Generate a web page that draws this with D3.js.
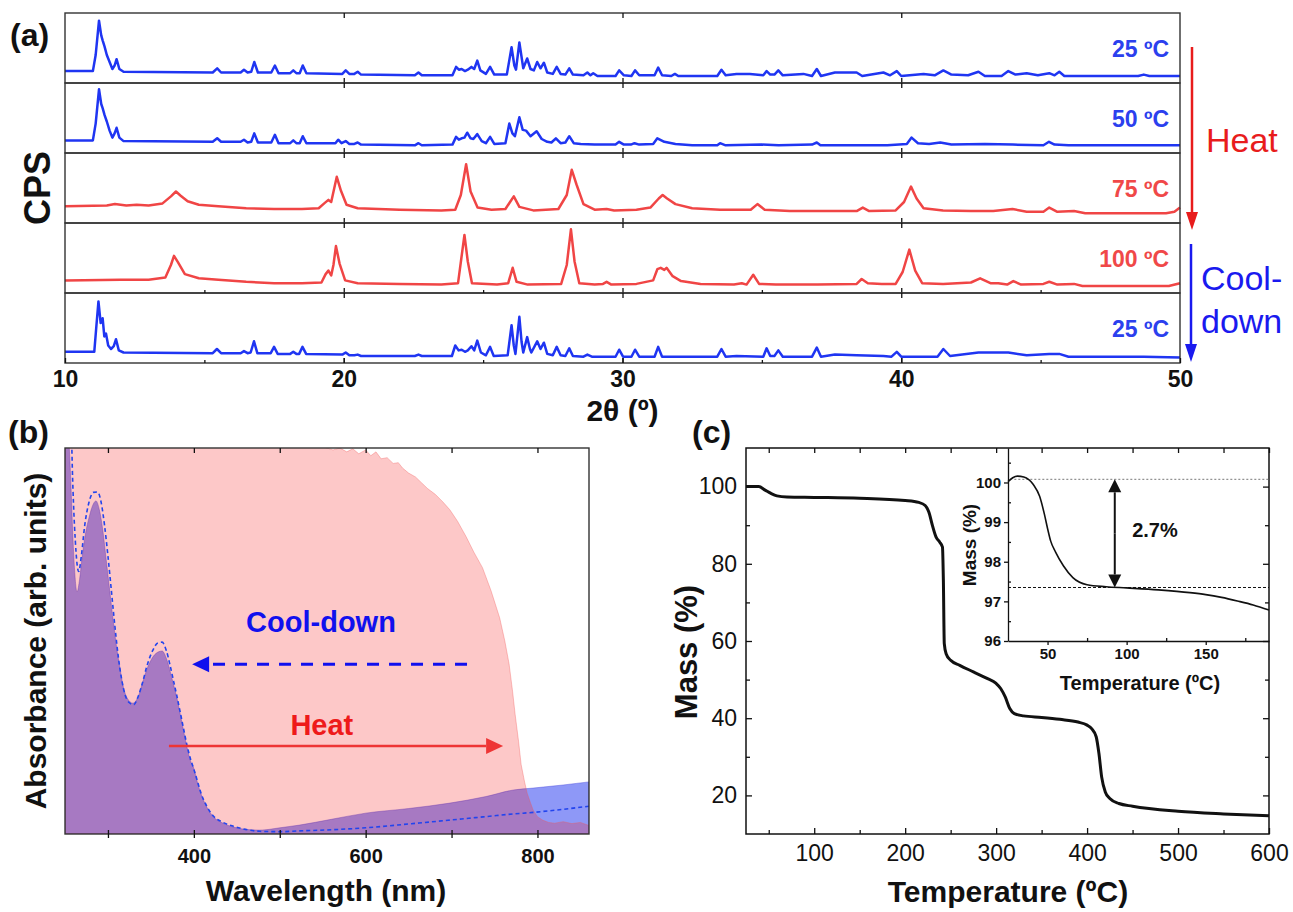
<!DOCTYPE html>
<html>
<head>
<meta charset="utf-8">
<script src="https://cdn.jsdelivr.net/npm/d3@7"></script>
<style>
  body { margin: 0; background: #fff; }
  text { font-family: Arial, "Liberation Sans", sans-serif; }
</style>
</head>
<body>
<svg id="fig" width="1293" height="912"></svg>
<script>
// ---------------- data ----------------
// (a) XRD patterns, [2theta, intensity] (intensity in % of strip height)
const xrd25 = [[10,17],[11.0,17],[11.1,40],[11.22,89],[11.3,68],[11.35,61],[11.42,52],[11.5,40],[11.6,30],[11.7,20],[11.78,25],[11.85,34],[11.95,20],[12.1,16],
  [15.3,15],[15.46,21],[15.6,15],[16.3,15],[16.42,19],[16.55,15],[16.68,16],[16.79,30],[16.92,15],[17.4,15],[17.53,25],[17.66,14],
  [18.08,14],[18.19,18],[18.3,14],[18.42,14],[18.53,25],[18.66,14],[19.95,13],[20.07,18],[20.2,13],[20.38,13],[20.5,16],[20.62,12],
  [22.55,11],[22.68,15],[22.8,11],[23.9,11],[24.03,23],[24.13,19],[24.23,20],[24.35,17],[24.45,19],[24.58,23],[24.68,20],[24.79,32],[24.9,18],[25.1,13],[25.25,23],[25.4,12],
  [25.85,12],[26.02,51],[26.12,25],[26.18,19],[26.3,58],[26.44,21],[26.58,35],[26.7,20],[26.82,18],[26.94,30],[27.06,21],[27.18,29],[27.3,15],[27.5,13],[27.64,23],[27.78,13],[27.95,12],[28.09,21],[28.22,12],
  [28.6,11],[28.74,15],[28.85,11],[28.95,14],[29.1,10],[29.75,10],[29.88,18],[30.05,11],[30.32,10],[30.45,18],[30.6,11],
  [31.15,11],[31.28,22],[31.42,11],[31.75,10],[31.88,13],[32.0,10],[33.4,10],[33.55,19],[33.7,11],[34.09,13],[34.57,13],[35.05,11],[35.17,17],[35.3,12],[35.45,12],[35.59,18],[35.75,11],
  [36.49,13],[36.8,10],[36.97,20],[37.12,10],[37.62,15],[38.4,15],[38.6,10],[39.36,15],[39.6,11],[39.84,17],[40.0,10],[40.8,13],[41.2,11],[41.51,18],[41.8,12],
  [42.4,11],[42.77,16],[43.0,10],[43.6,10],[43.84,17],[44.1,12],[44.5,14],[44.9,11],[45.31,14],[45.5,11],[45.67,16],[45.85,10],[48.5,10],[48.7,12],[48.9,10],[50,10]];

const xrd50 = [[10,18],[11.0,18],[11.1,42],[11.22,91],[11.3,70],[11.35,64],[11.42,54],[11.5,45],[11.6,32],[11.7,22],[11.78,28],[11.85,36],[11.95,22],[12.1,17],
  [15.3,16],[15.46,21],[15.6,16],[16.3,16],[16.42,19],[16.55,15],[16.68,16],[16.79,28],[16.92,15],[17.4,15],[17.53,26],[17.66,14],[18.08,14],[18.19,18],[18.3,14],[18.42,14],[18.53,24],[18.66,14],
  [19.7,14],[19.8,19],[19.92,14],[20.07,17],[20.2,13],[20.38,13],[20.5,15],[20.62,12],[22.55,11],[22.68,14],[22.8,11],
  [23.9,12],[24.03,23],[24.13,19],[24.23,21],[24.33,22],[24.43,29],[24.55,21],[24.65,20],[24.79,27],[24.95,17],[25.1,14],[25.25,23],[25.4,13],
  [25.8,14],[25.94,42],[26.05,28],[26.14,24],[26.3,51],[26.42,33],[26.54,32],[26.7,24],[26.92,31],[27.1,20],[27.3,16],[27.45,15],[27.61,21],[27.78,14],[27.95,15],[28.09,24],[28.25,14],
  [28.5,13],[29.0,12],[29.75,12],[29.88,16],[30.05,12],[30.3,12],[30.43,14],[30.6,12],[31.1,13],[31.25,21],[31.5,16],[31.9,13],[32.5,11],[33.4,11],[33.5,14],[33.7,11],
  [35.0,12],[35.6,11],[36.8,12],[36.97,15],[37.1,11],[39.5,11],[40.2,13],[40.37,22],[40.6,14],[41.0,13],[41.4,15],[41.8,12],[43.0,13],[44.0,12],[45.1,11],[45.3,16],[45.5,12],[46.0,11],[50,11]];

const xrd75 = [[10,24],[11.5,25],[11.79,27],[12.2,25],[12.57,26],[13.0,25],[13.5,28],[13.8,38],[13.98,45],[14.15,39],[14.4,31],[14.8,26],[15.5,24],[16.5,21],[17.5,20],[18.5,20],
  [19.1,21],[19.3,28],[19.45,33],[19.55,30],[19.75,66],[19.9,46],[20.1,26],[20.5,21],[22.0,19],[23.5,18],[24.0,19],[24.2,40],[24.39,84],[24.55,45],[24.8,22],[25.3,19],
  [25.8,20],[26.1,38],[26.3,23],[26.8,18],[27.7,20],[28.0,40],[28.18,76],[28.35,55],[28.6,27],[29.0,19],[29.43,20],[29.7,18],[30.5,19],[31.0,22],[31.3,35],[31.44,40],[31.6,35],[31.9,27],[32.5,21],
  [33.5,19],[34.6,19],[34.84,27],[35.1,19],[36.0,17],[37.5,17],[38.4,17],[38.62,22],[38.85,17],[39.8,18],[40.1,30],[40.35,52],[40.55,35],[40.8,21],[41.5,18],[42.5,17],
  [43.3,17],[43.99,20],[44.5,16],[45.1,16],[45.31,22],[45.6,16],[46.2,17],[46.6,14],[48.0,14],[49.5,14],[49.8,16],[50,22]];

const xrd100 = [[10,18],[12.0,19],[13.0,19],[13.6,22],[13.8,40],[13.91,53],[14.05,44],[14.3,27],[14.8,21],[15.5,19],[16.5,16],[17.5,14],[18.5,14],
  [19.2,15],[19.35,27],[19.45,32],[19.55,25],[19.63,40],[19.72,67],[19.85,42],[20.05,18],[20.5,14],[22.0,13],[23.5,12],[24.1,14],[24.22,50],[24.33,83],[24.45,45],[24.6,14],
  [25.5,12],[25.9,14],[26.06,36],[26.2,16],[26.6,12],[27.8,13],[28.0,40],[28.15,91],[28.28,45],[28.45,14],[29.0,12],[29.3,13],[29.43,16],[29.6,12],[30.5,13],
  [31.1,18],[31.25,34],[31.37,36],[31.5,33],[31.58,36],[31.8,24],[32.1,17],[32.8,13],[34.0,12],[34.28,14],[34.45,12],[34.69,26],[34.9,13],[35.5,12],[37.0,12],
  [38.4,13],[38.58,20],[38.8,14],[39.3,13],[39.8,13],[40.05,30],[40.29,62],[40.5,32],[40.75,14],[41.5,13],[42.5,15],[42.83,21],[43.2,14],[43.48,14],[43.8,12],[44.02,17],[44.3,12],
  [45.1,13],[45.31,16],[45.6,12],[46.2,13],[46.5,10],[49.6,10],[50,14]];

const xrd25cool = [[10,16],[11.05,16],[11.12,50],[11.2,88],[11.28,57],[11.35,64],[11.41,38],[11.47,42],[11.55,25],[11.65,20],[11.75,24],[11.83,34],[11.93,18],[12.1,15],
  [15.3,14],[15.45,20],[15.6,14],[16.3,14],[16.42,17],[16.55,14],[16.66,15],[16.78,31],[16.9,14],[17.38,14],[17.5,23],[17.63,13],[18.08,13],[18.19,16],[18.3,13],[18.4,13],[18.52,23],[18.65,13],
  [19.95,12],[20.07,15],[20.2,11],[20.38,11],[20.5,12],[20.62,10],[22.55,10],[22.68,12],[22.8,10],
  [23.88,10],[24.0,25],[24.12,18],[24.23,19],[24.35,16],[24.45,18],[24.58,24],[24.68,18],[24.79,32],[24.92,15],[25.1,11],[25.25,23],[25.38,10],
  [25.88,11],[26.02,54],[26.1,25],[26.16,13],[26.3,66],[26.38,30],[26.44,15],[26.58,37],[26.68,20],[26.73,15],[26.94,31],[27.06,20],[27.18,29],[27.3,13],[27.5,11],[27.64,23],[27.78,11],[27.95,10],[28.09,21],[28.22,10],
  [28.6,9],[28.74,12],[28.9,9],[29.75,9],[29.88,19],[30.02,9],[30.32,9],[30.45,19],[30.6,9],[31.15,9],[31.28,23],[31.42,9],[33.4,9],[33.55,20],[33.7,9],[34.09,10],
  [35.05,9],[35.17,21],[35.3,10],[35.45,10],[35.59,18],[35.75,9],[36.8,9],[36.97,22],[37.12,9],[37.62,12],[38.4,11],[39.36,10],[39.65,9],[39.84,16],[40.0,9],
  [41.3,9],[41.51,20],[41.75,10],[42.77,15],[43.84,15],[44.5,11],[45.31,13],[45.67,13],[46,9],[48.7,9],[50,8]];

const xrdSeries = [xrd25, xrd50, xrd75, xrd100, xrd25cool];
const xrdLabels = ["25 ºC", "50 ºC", "75 ºC", "100 ºC", "25 ºC"];
const xrdPhase = ["cold", "cold", "hot", "hot", "cold"];
const xrdTicks = [10, 20, 30, 40, 50];

// (b) UV-vis, [wavelength nm, absorbance arb.]
const absRoomTemp = [[250,1.10],[253,1.05],[255,1.0],[257,0.9],[259,0.78],[261,0.69],[264,0.627],[267,0.66],[270,0.718],[274,0.78],[278,0.82],[282,0.85],[286,0.863],[290,0.84],[294,0.787],
  [298,0.71],[302,0.632],[306,0.555],[310,0.485],[314,0.43],[318,0.38],[323,0.35],[329,0.339],[335,0.355],[340,0.39],[345,0.425],[350,0.45],[356,0.468],[363,0.474],[368,0.455],
  [372,0.425],[376,0.39],[380,0.355],[386,0.29],[392,0.225],[396,0.19],[400,0.17],[404,0.135],[408,0.106],[415,0.07],[423,0.044],[434,0.028],[446,0.018],[460,0.012],[477,0.01],
  [500,0.016],[523,0.023],[560,0.038],[600,0.054],[650,0.066],[698,0.08],[740,0.097],[772,0.114],[795,0.119],[830,0.127],[860,0.135]];
const absCooled = [[257.5,1.05],[258.5,0.95],[260,0.85],[262,0.76],[264,0.70],[266,0.68],[269,0.72],[273,0.80],[278,0.86],[283,0.885],[288,0.886],[292,0.86],[296,0.8],[300,0.72],
  [304,0.63],[308,0.54],[312,0.46],[316,0.40],[320,0.36],[325,0.34],[330,0.335],[335,0.355],[340,0.39],[346,0.44],[352,0.475],[358,0.495],[363,0.497],[368,0.475],[372,0.44],
  [376,0.40],[380,0.36],[386,0.295],[392,0.23],[396,0.195],[400,0.168],[404,0.138],[408,0.108],[415,0.072],[423,0.046],[434,0.03],[446,0.02],[460,0.012],[477,0.007],
  [500,0.006],[523,0.008],[560,0.011],[600,0.016],[650,0.026],[698,0.036],[740,0.045],[772,0.052],[795,0.056],[830,0.064],[860,0.072]];
const absHeated = [[250,1.05],[400,1.05],[500,1.03],[540,1.01],[555,1.0],[562,0.995],[570,1.0],[578,0.99],[585,0.998],[592,0.985],[600,0.995],[606,0.98],[612,0.99],[618,0.972],
  [625,0.975],[632,0.96],[638,0.962],[643,0.948],[650,0.935],[658,0.925],[665,0.91],[672,0.895],[681,0.88],[690,0.86],[698,0.84],[707,0.81],[717,0.77],[726,0.73],[736,0.69],
  [746,0.63],[756,0.56],[762,0.50],[767,0.44],[771,0.37],[774,0.31],[778,0.24],[781,0.18],[785,0.135],[788,0.106],[792,0.08],[795,0.062],[800,0.045],[806,0.036],[813,0.03],
  [820,0.028],[830,0.032],[840,0.027],[850,0.03],[860,0.022]];

// (c) TGA
const tgaTemp = [25,39,46,52,59,70,100,150,200,215,222,226,230,234,238,241,242,243,245,250,260,275,290,300,305,310,315,320,330,350,370,390,400,405,410,413,416,420,425,435,450,500,550,600];
const tgaMass = [100.0,100.0,99.1,98.3,97.6,97.3,97.2,97.0,96.4,95.9,95.1,93.4,89.9,86.9,85.6,84.3,75.7,59.3,56.7,55.0,53.7,52.0,50.3,49.0,47.7,45.5,42.5,41.2,40.6,40.2,39.7,39.0,38.2,37.3,35.2,30.9,24.8,20.9,19.2,17.9,17.2,15.9,15.2,14.7];
const insetTemp = [25,28,31,35,41,45,48,50,52,55,60,66,75,87,100,120,140,150,160,170,180,190];
const insetMass = [100.02,100.12,100.16,100.14,99.95,99.65,99.2,98.84,98.52,98.25,97.9,97.6,97.42,97.37,97.34,97.29,97.22,97.17,97.1,97.01,96.91,96.78];
const massBefore = 100.08, massAfter = 97.35;

// ---------------- drawing ----------------
const svg = d3.select("#fig");
const ink = "#111";

function styleAxis(sel, size, weight, keepDomain) {
  if (!keepDomain) sel.select(".domain").remove();
  else sel.select(".domain").attr("stroke", ink).attr("stroke-width", 1.3);
  sel.selectAll(".tick line").attr("stroke", ink).attr("stroke-width", 1.3);
  sel.selectAll(".tick text").attr("font-size", size).attr("font-weight", weight).attr("fill", ink)
    .attr("font-family", "Arial, 'Liberation Sans', sans-serif");
}

function arrow(g, x1, y1, x2, y2, color, width, head, hw, dash) {
  const ang = Math.atan2(y2 - y1, x2 - x1);
  const bx = x2 - head * Math.cos(ang), by = y2 - head * Math.sin(ang);
  g.append("line").attr("x1", x1).attr("y1", y1).attr("x2", bx).attr("y2", by)
    .attr("stroke", color).attr("stroke-width", width).attr("stroke-dasharray", dash || null);
  const px = -Math.sin(ang) * hw, py = Math.cos(ang) * hw;
  g.append("path").attr("d", `M${x2},${y2}L${bx + px},${by + py}L${bx - px},${by - py}Z`).attr("fill", color);
}

function label(g, txt, x, y, size, weight, color, anchor, rotate) {
  const t = g.append("text").text(txt).attr("font-size", size).attr("font-weight", weight)
    .attr("fill", color || ink).attr("text-anchor", anchor || "start");
  if (rotate) t.attr("transform", `translate(${x},${y}) rotate(-90)`);
  else t.attr("x", x).attr("y", y);
  return t;
}

// ===== (a) XRD =====
const gA = svg.append("g");
const xA = d3.scaleLinear().domain([10, 50]).range([65, 1180]);
const stripTop = 13, stripH = 70;
const phaseColor = d3.scaleOrdinal().domain(["cold", "hot"]).range(["#1f35f2", "#f04545"]);
const labelColor = d3.scaleOrdinal().domain(["cold", "hot"]).range(["#2b40ee", "#f04848"]);

xrdSeries.forEach((series, i) => {
  const top = stripTop + i * stripH;
  const yA = d3.scaleLinear().domain([0, 100]).range([top + stripH, top]);
  gA.append("path").datum(series)
    .attr("d", d3.line().x(d => xA(d[0])).y(d => yA(d[1])))
    .attr("fill", "none").attr("stroke", phaseColor(xrdPhase[i]))
    .attr("stroke-width", 2.5).attr("stroke-linejoin", "round");
  gA.append("rect").attr("x", xA(10)).attr("y", top).attr("width", xA(50) - xA(10)).attr("height", stripH)
    .attr("fill", "none").attr("stroke", "#333").attr("stroke-width", 1.4);
  gA.append("g").attr("transform", `translate(0,${top})`)
    .call(d3.axisTop(xA).tickValues([20, 30, 40]).tickSize(-5).tickFormat(""))
    .call(s => styleAxis(s, 0, "normal"));
  gA.append("g").attr("transform", `translate(0,${top + stripH})`)
    .call(d3.axisBottom(xA).tickValues([20, 30, 40]).tickSize(-5).tickFormat(""))
    .call(s => styleAxis(s, 0, "normal"));
  label(gA, xrdLabels[i], 1169, top + 44, 23, "bold", labelColor(xrdPhase[i]), "end");
});

const lastBottom = stripTop + 5 * stripH;
gA.append("g").attr("transform", `translate(0,${lastBottom})`)
  .call(d3.axisBottom(xA).tickValues(xrdTicks).tickSize(-5).tickPadding(8).tickFormat(d3.format("d")))
  .call(s => styleAxis(s, 23, "bold"));
gA.append("g").attr("transform", `translate(0,${lastBottom})`)
  .call(d3.axisBottom(xA).tickValues([15, 25, 35, 45]).tickSize(-3).tickFormat(""))
  .call(s => styleAxis(s, 0, "normal"));
gA.append("g").attr("transform", `translate(0,${lastBottom - stripH})`)
  .call(d3.axisBottom(xA).tickValues([15, 25, 35, 45]).tickSize(-3).tickFormat(""))
  .call(s => styleAxis(s, 0, "normal"));

label(gA, "2θ (º)", xA(30), 421, 30, "bold", ink, "middle");
label(gA, "CPS", 50, 188, 36, "bold", ink, "middle", true);
label(gA, "(a)", 10, 46, 32, "bold", ink, "start");

// heat / cool-down arrows
arrow(gA, 1192, 47, 1192, 230, "#e81c1c", 2.5, 18, 6);
label(gA, "Heat", 1206, 152, 34, "normal", "#e81c1c", "start");
arrow(gA, 1191, 244, 1191, 362, "#1a1aef", 2.5, 18, 6);
label(gA, "Cool-", 1201, 290, 34, "normal", "#1a1aef", "start");
label(gA, "down", 1201, 333, 34, "normal", "#1a1aef", "start");

// ===== (b) UV-vis =====
const gB = svg.append("g");
const xB = d3.scaleLinear().domain([250, 860]).range([65, 589]);
const yB = d3.scaleLinear().domain([0, 1]).range([834, 448]);
svg.append("defs").append("clipPath").attr("id", "clipB")
  .append("rect").attr("x", xB(250)).attr("y", yB(1)).attr("width", xB(860) - xB(250)).attr("height", yB(0) - yB(1));
const plotB = gB.append("g").attr("clip-path", "url(#clipB)");

const areaB = (curve) => d3.area().x(d => xB(d[0])).y0(yB(0)).y1(d => yB(d[1])).curve(curve);
plotB.append("path").datum(absRoomTemp).attr("d", areaB(d3.curveMonotoneX))
  .attr("fill", "rgb(30,50,240)").attr("fill-opacity", 0.5)
  .attr("stroke", "rgb(60,60,220)").attr("stroke-opacity", 0.4).attr("stroke-width", 1);
plotB.append("path").datum(absHeated).attr("d", areaB(d3.curveLinear))
  .attr("fill", "rgb(245,25,25)").attr("fill-opacity", 0.24)
  .attr("stroke", "rgb(240,90,90)").attr("stroke-opacity", 0.35).attr("stroke-width", 1);
plotB.append("path").datum(absCooled)
  .attr("d", d3.line().x(d => xB(d[0])).y(d => yB(d[1])).curve(d3.curveMonotoneX))
  .attr("fill", "none").attr("stroke", "#2244ee").attr("stroke-width", 1.6).attr("stroke-dasharray", "4,3");

gB.append("rect").attr("x", xB(250)).attr("y", yB(1)).attr("width", xB(860) - xB(250)).attr("height", yB(0) - yB(1))
  .attr("fill", "none").attr("stroke", "#333").attr("stroke-width", 1.4);
gB.append("g").attr("transform", `translate(0,${yB(1)})`)
  .call(d3.axisTop(xB).tickValues([300, 400, 500, 600, 700, 800]).tickSize(-5).tickFormat(""))
  .call(s => styleAxis(s, 0, "normal"));
gB.append("g").attr("transform", `translate(0,${yB(0)})`)
  .call(d3.axisBottom(xB).tickValues([300, 400, 500, 600, 700, 800]).tickSize(-4).tickFormat(""))
  .call(s => styleAxis(s, 0, "normal"));
gB.append("g").attr("transform", `translate(0,${yB(0)})`)
  .call(d3.axisBottom(xB).tickValues([300, 400, 500, 600, 700, 800]).tickSize(4).tickPadding(11)
    .tickFormat(d => d % 200 === 0 ? d : ""))
  .call(s => styleAxis(s, 20, "bold"));

label(gB, "Wavelength (nm)", 326, 901, 30, "bold", ink, "middle");
label(gB, "Absorbance (arb. units)", 46, 641, 30, "bold", ink, "middle", true);
label(gB, "(b)", 8, 443, 32, "bold", ink, "start");

arrow(gB, xB(718), yB(0.44), xB(398), yB(0.44), "#1010ee", 3, 17, 8, "12,10");
label(gB, "Cool-down", xB(548), yB(0.523), 29, "bold", "#1010ee", "middle");
arrow(gB, xB(371), yB(0.228), xB(760), yB(0.228), "#ee3535", 2.5, 17, 8);
label(gB, "Heat", xB(549), yB(0.256), 29, "bold", "#ee1a1a", "middle");

// ===== (c) TGA =====
const gC = svg.append("g");
const xC = d3.scaleLinear().domain([25, 600]).range([746, 1269]);
const yC = d3.scaleLinear().domain([10, 110]).range([834, 448]);
const tga = tgaTemp.map((t, i) => [t, tgaMass[i]]);

gC.append("rect").attr("x", xC(25)).attr("y", yC(110)).attr("width", xC(600) - xC(25)).attr("height", yC(10) - yC(110))
  .attr("fill", "none").attr("stroke", ink).attr("stroke-width", 1.5);
const majT = [100, 200, 300, 400, 500, 600], minT = [50, 150, 250, 350, 450, 550];
const majM = [20, 40, 60, 80, 100], minM = [30, 50, 70, 90];
gC.append("g").attr("transform", `translate(0,${yC(10)})`)
  .call(d3.axisBottom(xC).tickValues(majT).tickSize(-6).tickPadding(11).tickFormat(d3.format("d")))
  .call(s => styleAxis(s, 23, "normal"));
gC.append("g").attr("transform", `translate(0,${yC(10)})`)
  .call(d3.axisBottom(xC).tickValues(minT).tickSize(-4).tickFormat(""))
  .call(s => styleAxis(s, 0, "normal"));
gC.append("g").attr("transform", `translate(0,${yC(110)})`)
  .call(d3.axisTop(xC).tickValues(majT.concat(minT)).tickSize(-5).tickFormat(""))
  .call(s => styleAxis(s, 0, "normal"));
gC.append("g").attr("transform", `translate(${xC(25)},0)`)
  .call(d3.axisLeft(yC).tickValues(majM).tickSize(-6).tickPadding(9).tickFormat(d3.format("d")))
  .call(s => styleAxis(s, 23, "normal"));
gC.append("g").attr("transform", `translate(${xC(25)},0)`)
  .call(d3.axisLeft(yC).tickValues(minM).tickSize(-4).tickFormat(""))
  .call(s => styleAxis(s, 0, "normal"));
gC.append("g").attr("transform", `translate(${xC(600)},0)`)
  .call(d3.axisRight(yC).tickValues(majM).tickSize(-6).tickFormat(""))
  .call(s => styleAxis(s, 0, "normal"));
gC.append("g").attr("transform", `translate(${xC(600)},0)`)
  .call(d3.axisRight(yC).tickValues(minM).tickSize(-4).tickFormat(""))
  .call(s => styleAxis(s, 0, "normal"));

gC.append("path").datum(tga)
  .attr("d", d3.line().x(d => xC(d[0])).y(d => yC(d[1])).curve(d3.curveMonotoneX))
  .attr("fill", "none").attr("stroke", ink).attr("stroke-width", 3).attr("stroke-linejoin", "round");

label(gC, "Temperature (ºC)", 1008, 902, 30, "bold", ink, "middle");
label(gC, "Mass (%)", 697, 652, 31, "bold", ink, "middle", true);
label(gC, "(c)", 692, 443, 32, "bold", ink, "start");

// inset
const gI = gC.append("g");
const xI = d3.scaleLinear().domain([25, 190]).range([1008, 1269]);
const yI = d3.scaleLinear().domain([96, 100.87]).range([641, 448]);
const inset = insetTemp.map((t, i) => [t, insetMass[i]]);

gI.append("line").attr("x1", xI(29)).attr("x2", xI(190)).attr("y1", yI(massBefore)).attr("y2", yI(massBefore))
  .attr("stroke", "#777").attr("stroke-width", 1).attr("stroke-dasharray", "2,2");
gI.append("line").attr("x1", xI(25)).attr("x2", xI(190)).attr("y1", yI(massAfter)).attr("y2", yI(massAfter))
  .attr("stroke", ink).attr("stroke-width", 1).attr("stroke-dasharray", "3,2");

gI.append("g").attr("transform", `translate(${xI(25)},0)`)
  .call(d3.axisLeft(yI).tickValues([96, 97, 98, 99, 100]).tickSizeInner(4).tickSizeOuter(0).tickPadding(3)
    .tickFormat(d3.format("d")))
  .call(s => styleAxis(s, 15, "bold", true));
gI.append("g").attr("transform", `translate(${xI(25)},0)`)
  .call(d3.axisLeft(yI).tickValues([96.5, 97.5, 98.5, 99.5, 100.5]).tickSize(-3).tickFormat(""))
  .call(s => styleAxis(s, 0, "normal"));
gI.append("g").attr("transform", `translate(0,${yI(96)})`)
  .call(d3.axisBottom(xI).tickValues([50, 100, 150]).tickSizeInner(4).tickSizeOuter(0).tickPadding(3)
    .tickFormat(d3.format("d")))
  .call(s => styleAxis(s, 15, "bold", true));
gI.append("g").attr("transform", `translate(0,${yI(96)})`)
  .call(d3.axisBottom(xI).tickValues([75, 125, 175]).tickSize(-3).tickFormat(""))
  .call(s => styleAxis(s, 0, "normal"));

gI.append("path").datum(inset)
  .attr("d", d3.line().x(d => xI(d[0])).y(d => yI(d[1])).curve(d3.curveMonotoneX))
  .attr("fill", "none").attr("stroke", ink).attr("stroke-width", 1.6);

const arrowT = 92.5;
const midM = (massBefore + massAfter) / 2;
arrow(gI, xI(arrowT), yI(midM), xI(arrowT), yI(massBefore), ink, 2, 13, 6.5);
arrow(gI, xI(arrowT), yI(midM), xI(arrowT), yI(massAfter), ink, 2, 13, 6.5);
label(gI, "2.7%", xI(103.5), yI(98.62), 20, "bold", ink, "start");

label(gI, "Temperature (ºC)", 1140, 690, 20, "bold", ink, "middle");
label(gI, "Mass (%)", 976, 545, 19, "bold", ink, "middle", true);
</script>
</body>
</html>
